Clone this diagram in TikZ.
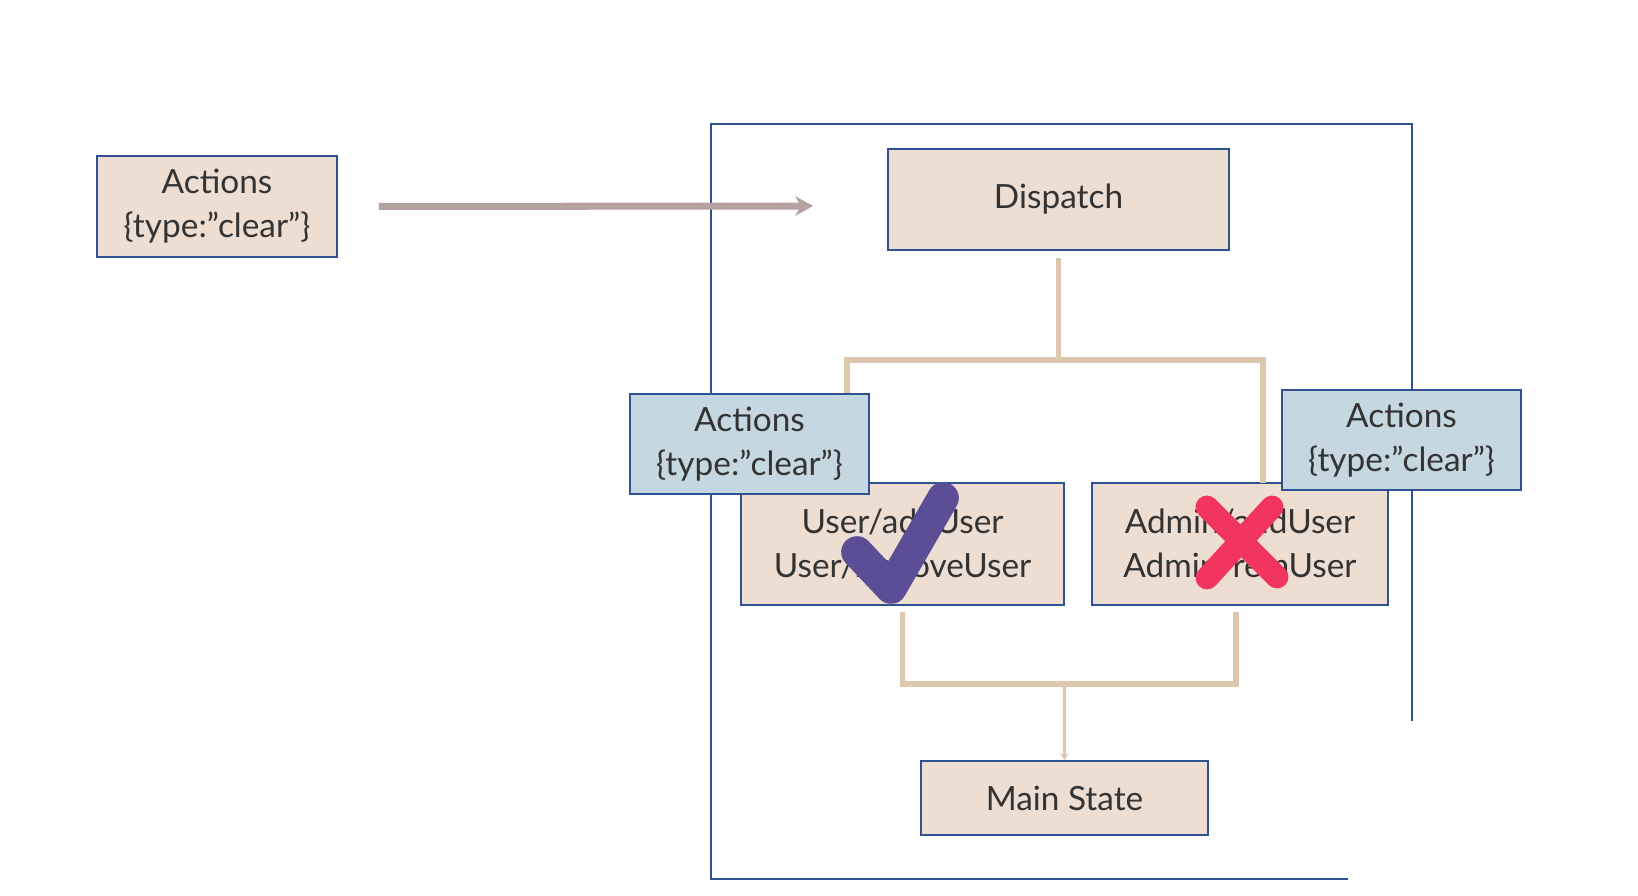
\documentclass[tikz,border=0pt]{standalone}
\usepackage{fontspec}
\setmainfont{Lato}
\usepackage{tikz}
\usetikzlibrary{positioning, arrows.meta, calc}
\definecolor{BoxBeige}{HTML}{EEDED1}
\definecolor{BoxBlue}{HTML}{C5D7E0}
\definecolor{EdgeBlue}{HTML}{2F5293}
\definecolor{LinkTan}{HTML}{DCC8AF}
\definecolor{FlowMauve}{HTML}{B5A1A0}
\definecolor{TickPurple}{HTML}{5B4E96}
\definecolor{CrossRed}{HTML}{F2355E}

\begin{document}
\begin{tikzpicture}[
    x=0.02cm, y=-0.02cm,
    box/.style={rectangle, draw=EdgeBlue, line width=1.1pt, fill=BoxBeige,
                text=black!80, font=\fontsize{19}{25}\selectfont, align=center, inner sep=0pt},
    act/.style={box, fill=BoxBlue, minimum width=4.78cm, minimum height=2cm},
    link/.style={draw=LinkTan, line width=3pt},
    flow/.style={-{Stealth[length=10pt, width=11pt, inset=3pt]}, draw=FlowMauve, line width=4pt},
    stamp/.style={line width=18pt, line cap=round, line join=round}
]
  \useasboundingbox (0,0) rectangle (1638,895);
  % Store frame
  \draw[EdgeBlue, line width=1.1pt] (1412,721) -- (1412,124) -- (711,124) -- (711,879) -- (1348,879);

  % Incoming action
  \node[act, fill=BoxBeige, minimum width=4.8cm, minimum height=2.02cm] (a0) at (217,206.5) {Actions\\\{type:”clear”\}};
  \coordinate (tip) at (813,206);
  \draw[flow, shorten <=0.82cm] (a0.east) -- (tip);

  % Dispatch
  \node[box, minimum width=6.82cm, minimum height=2.02cm] (disp) at (1058.5,199.5) {Dispatch};

  % Reducers
  \node[box, minimum width=6.46cm, minimum height=2.44cm] (user) at (902.5,544) {User/addUser\\User/removeUser};
  \node[box, minimum width=5.92cm, minimum height=2.44cm] (admin) at (1240,544) {Admin/addUser\\Admin/remUser};
  \coordinate (uin) at (847,483);
  \coordinate (ain) at (1263,483);
  \coordinate (split) at (1058.5,360);
  \draw[link, shorten <=0.14cm] (disp.south) -- (split);
  \draw[link] (split) -| (uin);
  \draw[link] (split) -| (ain);

  % Main State
  \node[box, minimum width=5.74cm, minimum height=1.48cm] (main) at (1064.5,798) {Main State};
  \coordinate (join) at (main.north |- 0,684);
  \draw[link, shorten <=0.12cm] (user.south) |- (join);
  \draw[link, shorten <=0.12cm] ([xshift=-0.08cm]admin.south) |- (join);
  \draw[draw=LinkTan, line width=2pt, -{Stealth[length=4pt, width=5pt]}] (join) -- (main.north);

  % Actions reaching each reducer
  \node[act] (a1) at (749.5,444) {Actions\\\{type:”clear”\}};
  \node[act] (a2) at (1401.5,440) {Actions\\\{type:”clear”\}};

  % Tick and cross
  \draw[stamp, TickPurple] (857,552) -- (891,588) -- (943,498);
  \draw[stamp, CrossRed, line width=13pt] (1207,507) -- (1277,577);
  \draw[stamp, CrossRed, line width=13pt] (1272,507) -- (1207,578);
\end{tikzpicture}
\end{document}
